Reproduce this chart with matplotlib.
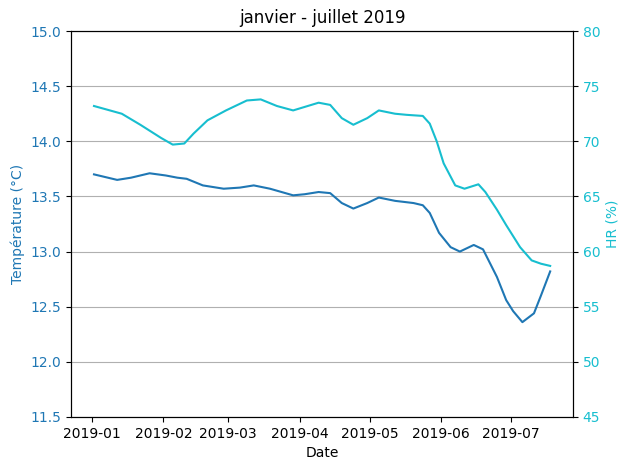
import numpy as np
import pandas as pd
import matplotlib
matplotlib.use("Agg")
import matplotlib.pyplot as plt

# temperature (left axis)
temp_dates = ["2019-01-02", "2019-01-12", "2019-01-18", "2019-01-26", "2019-02-02",
              "2019-02-07", "2019-02-11", "2019-02-18", "2019-02-27", "2019-03-06",
              "2019-03-12", "2019-03-19", "2019-03-29", "2019-04-03", "2019-04-09",
              "2019-04-14", "2019-04-19", "2019-04-24", "2019-04-30", "2019-05-05",
              "2019-05-12", "2019-05-20", "2019-05-24", "2019-05-27", "2019-05-31",
              "2019-06-05", "2019-06-09", "2019-06-15", "2019-06-19", "2019-06-25",
              "2019-06-29", "2019-07-02", "2019-07-06", "2019-07-11", "2019-07-14",
              "2019-07-18"]
temp_vals = [13.70, 13.65, 13.67, 13.71, 13.69,
             13.67, 13.66, 13.60, 13.57, 13.58,
             13.60, 13.57, 13.51, 13.52, 13.54,
             13.53, 13.44, 13.39, 13.44, 13.49,
             13.46, 13.44, 13.42, 13.35, 13.17,
             13.04, 13.00, 13.06, 13.02, 12.77,
             12.56, 12.46, 12.36, 12.44, 12.60,
             12.82]

# relative humidity (right axis)
hr_dates = ["2019-01-02", "2019-01-14", "2019-01-22", "2019-01-31", "2019-02-05",
            "2019-02-10", "2019-02-14", "2019-02-20", "2019-02-28", "2019-03-09",
            "2019-03-15", "2019-03-22", "2019-03-29", "2019-04-09", "2019-04-14",
            "2019-04-19", "2019-04-24", "2019-04-30", "2019-05-05", "2019-05-12",
            "2019-05-17", "2019-05-24", "2019-05-27", "2019-05-30", "2019-06-02",
            "2019-06-05", "2019-06-07", "2019-06-11", "2019-06-17", "2019-06-20",
            "2019-06-25", "2019-06-29", "2019-07-05", "2019-07-10", "2019-07-14",
            "2019-07-18"]
hr_vals = [73.2, 72.5, 71.5, 70.3, 69.7,
           69.8, 70.7, 71.9, 72.8, 73.7,
           73.8, 73.2, 72.8, 73.5, 73.3,
           72.1, 71.5, 72.1, 72.8, 72.5,
           72.4, 72.3, 71.6, 70.0, 68.0,
           66.8, 66.0, 65.7, 66.1, 65.4,
           63.8, 62.4, 60.4, 59.2, 58.9,
           58.7]

temp_dates = pd.to_datetime(temp_dates)
hr_dates = pd.to_datetime(hr_dates)

fig, ax1 = plt.subplots(figsize=(6.3, 4.7), dpi=100)
fig.subplots_adjust(left=0.113, right=0.9095, top=0.934, bottom=0.1128)

ax1.plot(temp_dates, temp_vals, color="tab:blue")
ax1.set_ylim(11.5, 15.0)
ax1.set_xlabel("Date")
ax1.set_ylabel("Température (°C)", color="tab:blue")
ax1.tick_params(axis="y", labelcolor="tab:blue")
ax1.grid(axis="y")
ax1.set_title("janvier - juillet 2019")

ax2 = ax1.twinx()
ax2.plot(hr_dates, hr_vals, color="tab:cyan")
ax2.set_ylim(45, 80)
ax2.set_ylabel("HR (%)", color="tab:cyan")
ax2.tick_params(axis="y", labelcolor="tab:cyan")

plt.savefig("out.png", dpi=100)
